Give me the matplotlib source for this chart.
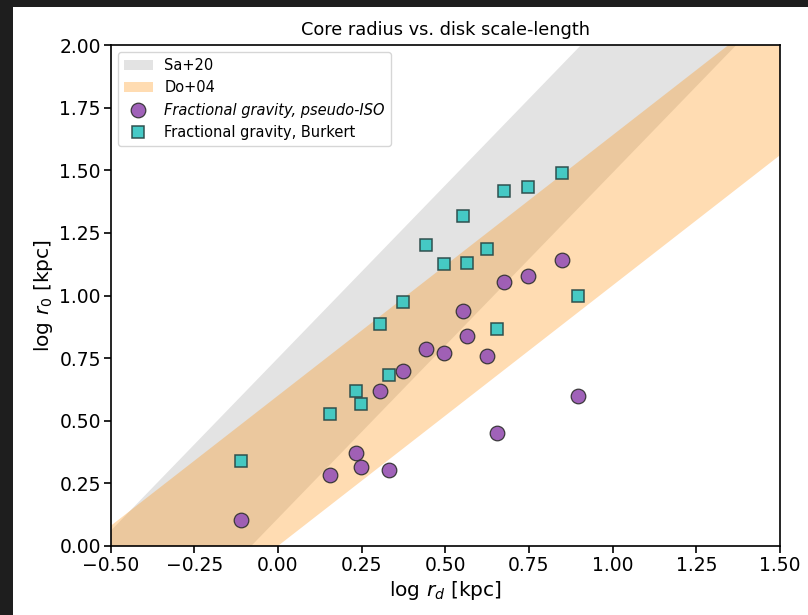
import numpy as np
import matplotlib
matplotlib.use('Agg')
import matplotlib.pyplot as plt
from matplotlib.patches import Rectangle
from matplotlib.ticker import FuncFormatter

# log r_d of the galaxies (same for both fits)
log_rd = [-0.110, 0.156, 0.232, 0.248, 0.305, 0.332, 0.374, 0.441, 0.497,
          0.553, 0.564, 0.624, 0.655, 0.676, 0.748, 0.849, 0.896]
# log r_0 from the pseudo-isothermal fit
log_r0_iso = [0.104, 0.283, 0.371, 0.315, 0.620, 0.303, 0.699, 0.786, 0.772,
              0.939, 0.838, 0.758, 0.450, 1.055, 1.078, 1.142, 0.600]
# log r_0 from the Burkert fit
log_r0_bur = [0.339, 0.526, 0.617, 0.567, 0.886, 0.683, 0.975, 1.202, 1.126,
              1.317, 1.129, 1.184, 0.866, 1.417, 1.434, 1.491, 1.000]

# scaling relations: slope, lower and upper intercepts
sa20 = (1.38, 0.11, 0.75)
do04 = (1.04, 0.0, 0.60)


def fmt(v, pos):
    return ('%.2f' % v).replace('-', '\u2212')


fig = plt.figure(figsize=(8.08, 6.15), dpi=100)
fig.patch.set_facecolor('#1e1e1e')
# white page area of the screenshot
fig.patches.append(Rectangle((13 / 808, 0), 1, 1 - 7 / 615,
                             transform=fig.transFigure, facecolor='white',
                             edgecolor='none', zorder=-10))
ax = fig.add_axes([0.1368, 0.1122, 0.8285, 0.8146])

x = np.linspace(-0.5, 1.5, 200)
ax.fill_between(x, sa20[0] * x + sa20[1], sa20[0] * x + sa20[2],
                color='gray', alpha=0.22, linewidth=0, label='Sa+20')
ax.fill_between(x, do04[0] * x + do04[1], do04[0] * x + do04[2],
                color='darkorange', alpha=0.3, linewidth=0, label='Do+04')

ax.plot(log_rd, log_r0_iso, 'o', color='#9b59b6', markeredgecolor='#333333',
        markersize=10.5, markeredgewidth=0.9, alpha=0.95,
        label='Fractional gravity, pseudo-ISO')
ax.plot(log_rd, log_r0_bur, 's', color='#3cc8c4', markeredgecolor='#2a4a48',
        markersize=8.5, markeredgewidth=1.1, alpha=0.95,
        label='Fractional gravity, Burkert')

ax.set_xlim(-0.5, 1.5)
ax.set_ylim(0, 2)
ax.set_xticks(np.arange(-0.5, 1.51, 0.25))
ax.set_yticks(np.arange(0, 2.01, 0.25))
ax.xaxis.set_major_formatter(FuncFormatter(fmt))
ax.yaxis.set_major_formatter(FuncFormatter(fmt))
ax.tick_params(labelsize=13.5, length=5, width=1.2, pad=2)
for s in ax.spines.values():
    s.set_linewidth(1.2)

ax.set_xlabel(r'log $r_d$ [kpc]', fontsize=14.5, labelpad=3)
ax.set_ylabel(r'log $r_0$ [kpc]', fontsize=14.5, labelpad=3)
ax.set_title('Core radius vs. disk scale-length', fontsize=12.8, pad=7)

leg = ax.legend(loc='upper left', fontsize=10.5, framealpha=0.8)
leg.get_texts()[2].set_fontstyle('italic')

fig.savefig('out.png', dpi=100, facecolor=fig.get_facecolor())
